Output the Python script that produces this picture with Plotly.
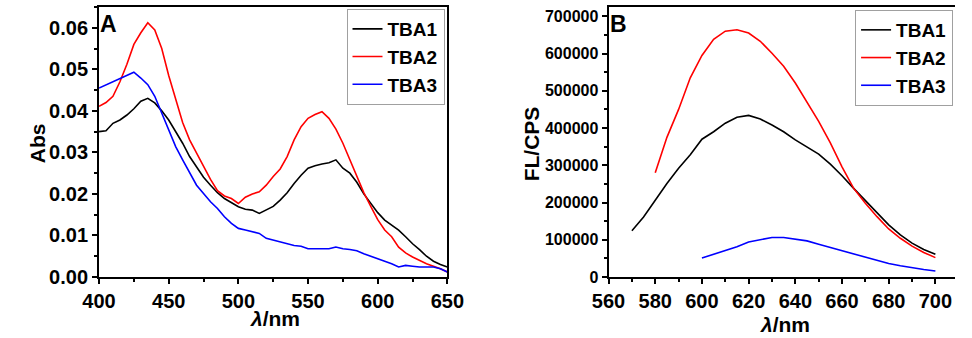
import plotly.graph_objects as go

# ---------------- Data ----------------
# Panel A: absorbance spectra, 400-650 nm every 5 nm
wl_abs = list(range(400, 651, 5))
abs_tba1 = [0.0350, 0.0352, 0.0370, 0.0378, 0.0390, 0.0405, 0.0423, 0.0430, 0.0419, 0.0400,
            0.0378, 0.0350, 0.0322, 0.0290, 0.0266, 0.0240, 0.0221, 0.0203, 0.0189, 0.0178,
            0.0169, 0.0163, 0.0161, 0.0153, 0.0161, 0.0170, 0.0185, 0.0203, 0.0225, 0.0245,
            0.0262, 0.0268, 0.0272, 0.0275, 0.0282, 0.0262, 0.0250, 0.0228, 0.0200, 0.0178,
            0.0155, 0.0137, 0.0125, 0.0113, 0.0097, 0.0080, 0.0066, 0.0050, 0.0038, 0.0030,
            0.0024]
abs_tba2 = [0.0411, 0.0420, 0.0435, 0.0470, 0.0512, 0.0560, 0.0588, 0.0612, 0.0595, 0.0550,
            0.0485, 0.0427, 0.0372, 0.0330, 0.0298, 0.0266, 0.0235, 0.0208, 0.0195, 0.0189,
            0.0177, 0.0192, 0.0200, 0.0205, 0.0221, 0.0242, 0.0260, 0.0290, 0.0330, 0.0362,
            0.0382, 0.0391, 0.0398, 0.0382, 0.0356, 0.0322, 0.0282, 0.0240, 0.0203, 0.0170,
            0.0138, 0.0113, 0.0097, 0.0072, 0.0058, 0.0048, 0.0040, 0.0032, 0.0026, 0.0020,
            0.0012]
abs_tba3 = [0.0455, 0.0463, 0.0471, 0.0479, 0.0487, 0.0493, 0.0479, 0.0463, 0.0435, 0.0395,
            0.0354, 0.0314, 0.0282, 0.0250, 0.0221, 0.0201, 0.0181, 0.0165, 0.0145, 0.0129,
            0.0117, 0.0113, 0.0109, 0.0105, 0.0093, 0.0089, 0.0085, 0.0081, 0.0076, 0.0074,
            0.0068, 0.0068, 0.0068, 0.0068, 0.0072, 0.0068, 0.0066, 0.0063, 0.0056, 0.0050,
            0.0044, 0.0039, 0.0032, 0.0024, 0.0028, 0.0026, 0.0024, 0.0024, 0.0024, 0.0020,
            0.0012]

# Panel B: fluorescence spectra
wl_fl1 = list(range(570, 701, 5))
fl_tba1 = [124000, 161000, 206000, 251000, 292000, 328000, 370000, 390000, 413000, 429000,
           434000, 424000, 408000, 390000, 368000, 350000, 330000, 303000, 272000, 238000,
           206000, 172000, 140000, 113000, 91000, 74000, 61000]
wl_fl2 = list(range(580, 701, 5))
fl_tba2 = [280000, 375000, 450000, 535000, 595000, 638000, 660000, 664000, 655000, 633000,
           601000, 566000, 521000, 470000, 418000, 360000, 296000, 238000, 198000, 162000,
           129000, 104000, 83000, 66000, 52000]
wl_fl3 = list(range(600, 701, 5))
fl_tba3 = [51000, 61000, 72000, 81000, 94000, 100000, 106000, 106000, 102000, 97000,
           88000, 79000, 70000, 61000, 52000, 43000, 36000, 30000, 24000, 20000, 16000]

names = ["TBA1", "TBA2", "TBA3"]
colors = ["#000000", "#ff0000", "#0000ff"]

# ---------------- Figure ----------------
W, H = 972, 338
MT, MB = 7, 61
PH = H - MT - MB

def px_x(px):
    return px / W

def px_y(py):
    return (H - MB - py) / PH

FONT = "Liberation Sans, Arial, sans-serif"

fig = go.Figure()
for wl, ys, n, c in zip([wl_abs] * 3, [abs_tba1, abs_tba2, abs_tba3], names, colors):
    fig.add_trace(go.Scatter(x=wl, y=ys, mode="lines", name=n,
                             line=dict(color=c, width=1.6),
                             xaxis="x", yaxis="y", legend="legend"))
for wl, ys, n, c in zip([wl_fl1, wl_fl2, wl_fl3], [fl_tba1, fl_tba2, fl_tba3], names, colors):
    fig.add_trace(go.Scatter(x=wl, y=ys, mode="lines", name=n,
                             line=dict(color=c, width=1.6),
                             xaxis="x2", yaxis="y2", legend="legend2"))

axis_common = dict(showline=True, linecolor="black", linewidth=2, ticks="outside",
                   ticklen=5, tickwidth=1.5, tickcolor="black", showgrid=False,
                   zeroline=False)

fig.update_layout(
    width=W, height=H,
    margin=dict(l=0, r=0, t=MT, b=MB, pad=0),
    paper_bgcolor="white", plot_bgcolor="white",
    font=dict(family=FONT, color="black", weight="bold"),
    xaxis=dict(domain=[px_x(85), px_x(446)], range=[400, 650], dtick=50,
               anchor="y", mirror=True,
               tickfont=dict(size=20, family=FONT, weight="bold"),
               minor=dict(ticks="outside", dtick=25, ticklen=3, tickwidth=1.5,
                          tickcolor="black"),
               **axis_common),
    yaxis=dict(domain=[0, 1], range=[0, 0.065], dtick=0.01, tickformat=".2f",
               anchor="x", mirror=True,
               tickfont=dict(size=20, family=FONT, weight="bold"),
               minor=dict(ticks="outside", dtick=0.005, ticklen=3, tickwidth=1.5,
                          tickcolor="black"),
               **axis_common),
    xaxis2=dict(domain=[px_x(613), 1.0], range=[560, 708.4], dtick=20,
                anchor="y2", mirror=True,
                tickfont=dict(size=20, family=FONT, weight="bold"),
                minor=dict(ticks="outside", dtick=10, ticklen=3, tickwidth=1.5,
                           tickcolor="black"),
                **axis_common),
    yaxis2=dict(domain=[0, 1], range=[0, 725000], dtick=100000, tickformat="d",
                anchor="x2", mirror=False,
                tickfont=dict(size=16, family=FONT, weight="bold"),
                minor=dict(ticks="outside", dtick=50000, ticklen=3, tickwidth=1.5,
                           tickcolor="black"),
                **axis_common),
    legend=dict(x=px_x(443), xanchor="right", y=px_y(9), yanchor="top",
                bgcolor="white", bordercolor="#a0a0a0", borderwidth=1,
                font=dict(size=19, family=FONT, color="black", weight="bold"),
                tracegroupgap=0, itemwidth=30),
    legend2=dict(x=px_x(970), xanchor="right", y=px_y(10), yanchor="top",
                 bgcolor="white", bordercolor="#a0a0a0", borderwidth=1,
                 font=dict(size=19, family=FONT, color="black", weight="bold"),
                 tracegroupgap=0, itemwidth=30),
    showlegend=True,
)

annos = [
    dict(text="A", x=px_x(95), y=px_y(24.5), size=23, angle=0),
    dict(text="B", x=px_x(623.5), y=px_y(23.5), size=23, angle=0),
    dict(text="Abs", x=px_x(21), y=px_y(143), size=21, angle=-90),
    dict(text="FL/CPS", x=px_x(533), y=px_y(144), size=21, angle=-90),
    dict(text="<i>λ</i>/nm", x=px_x(267), y=px_y(318), size=21, angle=0),
    dict(text="<i>λ</i>/nm", x=px_x(796), y=px_y(324), size=21, angle=0),
]
for a in annos:
    fig.add_annotation(text=a["text"], x=a["x"], y=a["y"], xref="paper", yref="paper",
                       xanchor="center", yanchor="middle", showarrow=False,
                       textangle=a["angle"],
                       font=dict(size=a["size"], family=FONT, color="black", weight="bold"))

fig.write_html("out.html")
